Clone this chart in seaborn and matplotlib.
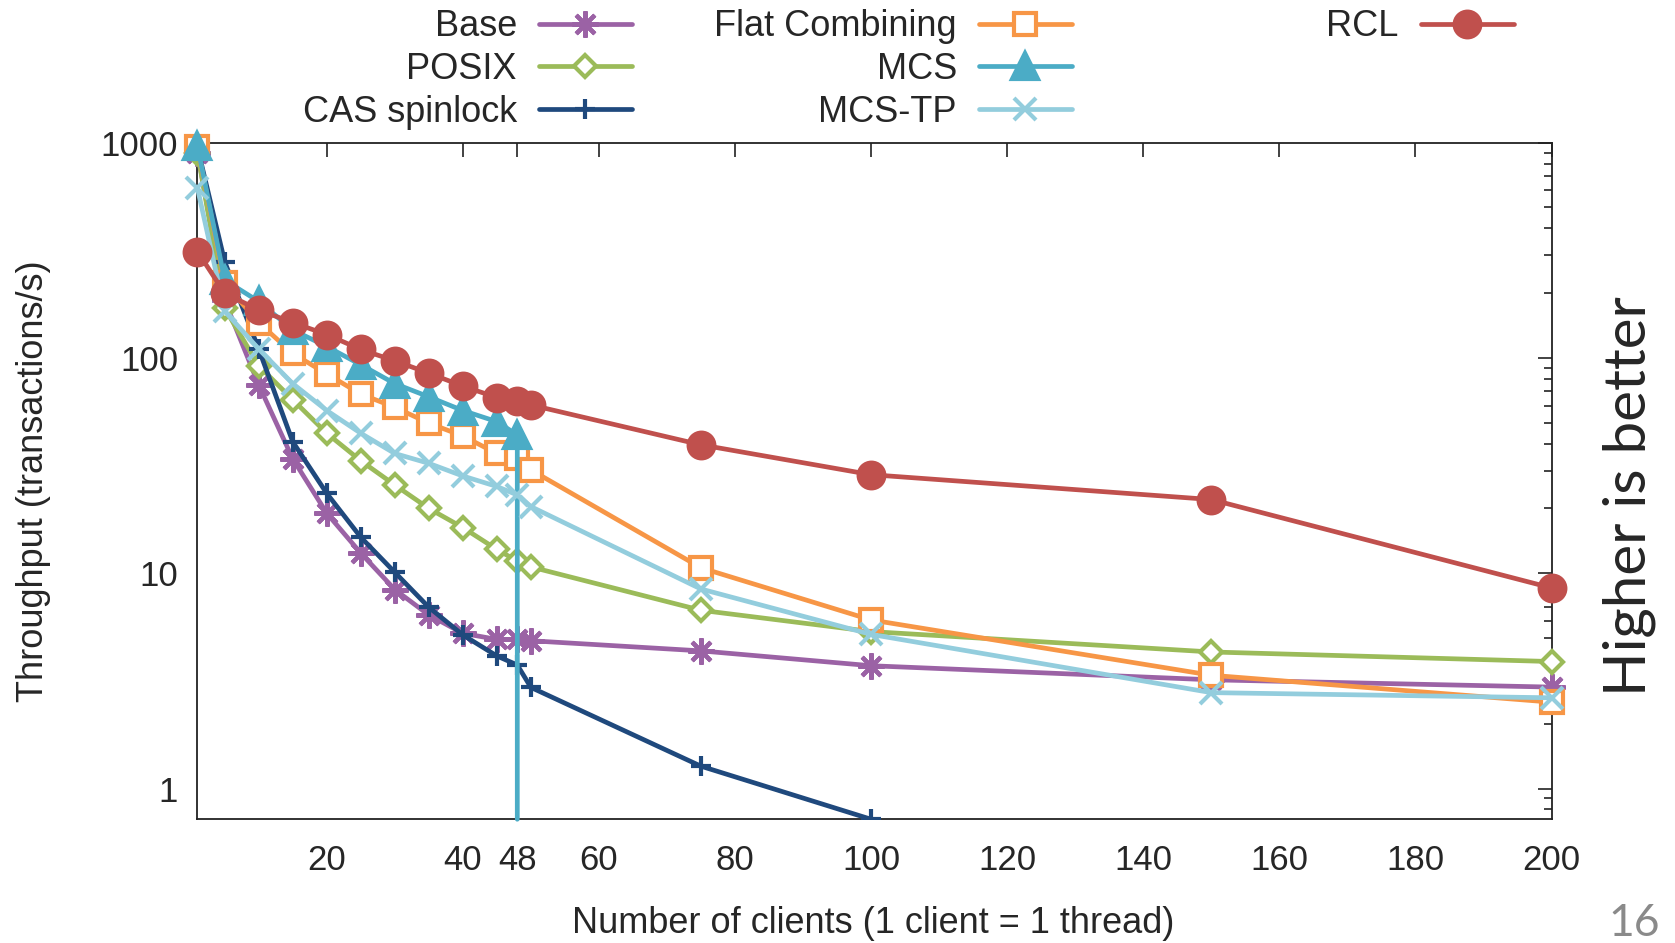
import numpy as np
import matplotlib.pyplot as plt
import seaborn as sns
from matplotlib.lines import Line2D
from matplotlib.ticker import LogLocator, NullFormatter, NullLocator

# data (throughput in transactions/s)
clients = [1, 5, 10, 15, 20, 25, 30, 35, 40, 45, 48, 50, 75, 100, 150, 200]
base = [900, 185, 75, 34, 19, 12.4, 8.4, 6.4, 5.26, 4.93, 4.93, 4.86, 4.36, 3.72, 3.2, 2.96]
posix = [900, 170, 92, 64, 44.7, 33.3, 25.7, 20, 16.3, 12.9, 11.4, 10.7, 6.73, 5.36, 4.31, 3.89]
cas_clients = [1, 5, 10, 15, 20, 25, 30, 35, 40, 45, 48, 50, 75, 100]
cas = [950, 280, 110, 40.8, 23.5, 14.7, 10.1, 6.95, 5.17, 4.13, 3.75, 2.95, 1.27, 0.72]
flat = [950, 222, 146, 105, 84.3, 68, 59, 49.8, 43.4, 36, 34.2, 30.2, 10.6, 6.07, 3.36, 2.52]
mcs_clients = [1, 5, 10, 15, 20, 25, 30, 35, 40, 45, 48, 48]
mcs = [960, 230, 183, 135, 113, 93, 76, 66, 57, 50.6, 43.9, 0.72]
mcs_tp = [614, 165, 110, 76, 57, 44.7, 36, 32.4, 28.3, 25.3, 23.1, 20.4, 8.45, 5.2, 2.79, 2.64]
rcl = [312, 200, 167, 146, 128.5, 109.5, 97, 85, 74, 65.5, 63, 60.5, 39.5, 28.7, 22, 8.55]

x_ticks = [20, 40, 48, 60, 80, 100, 120, 140, 160, 180, 200]
y_ticks = [1, 10, 100, 1000]
y_tick_labels = ['1', '10', '100', '1000']

sns.set_style("white")
plt.rcParams['font.family'] = ['Liberation Sans', 'DejaVu Sans']

LW = 3.4
MEW = 3.0
styles = {
    'Base': dict(color='#9B62A5', marker=(8, 2, 0), markersize=19, markerfacecolor='#9B62A5'),
    'POSIX': dict(color='#9BBB59', marker='D', markersize=11, markerfacecolor='white'),
    'CAS spinlock': dict(color='#1F497D', marker='+', markersize=15, markerfacecolor='#1F497D'),
    'Flat Combining': dict(color='#F79646', marker='s', markersize=15.5, markerfacecolor='white'),
    'MCS': dict(color='#4BACC6', marker='^', markersize=19, markerfacecolor='#4BACC6'),
    'MCS-TP': dict(color='#93CDDD', marker='x', markersize=16, markerfacecolor='#93CDDD'),
    'RCL': dict(color='#C0504D', marker='o', markersize=18.5, markerfacecolor='#C0504D'),
}

fig = plt.figure(figsize=(16.75, 9.43), dpi=100)
ax = fig.add_axes([0.1179, 0.1312, 0.8084, 0.7175])
ax.set_yscale('log')

series = [
    ('Base', clients, base, {}),
    ('POSIX', clients, posix, {}),
    ('CAS spinlock', cas_clients, cas, {'clip_on': True}),
    ('Flat Combining', clients, flat, {}),
    ('MCS', mcs_clients, mcs, {'markevery': list(range(len(mcs) - 1))}),
    ('MCS-TP', clients, mcs_tp, {}),
    ('RCL', clients, rcl, {}),
]

handles = {}
for name, xs, ys, extra in series:
    st = styles[name]
    kw = dict(clip_on=False)
    kw.update(extra)
    sns.lineplot(x=xs, y=ys, ax=ax, estimator=None, sort=False, legend=False,
                 color=st['color'], linewidth=LW, marker=st['marker'],
                 markersize=st['markersize'], markerfacecolor=st['markerfacecolor'],
                 markeredgecolor=st['color'], markeredgewidth=MEW, zorder=3, **kw)
    handles[name] = Line2D([], [], color=st['color'], linewidth=LW, marker=st['marker'],
                           markersize=st['markersize'], markerfacecolor=st['markerfacecolor'],
                           markeredgecolor=st['color'], markeredgewidth=MEW)

ax.set_xlim(1, 200)
ax.set_ylim(0.72, 1000)
ax.set_xticks(x_ticks)
ax.set_xticklabels([str(t) for t in x_ticks])
ax.xaxis.set_minor_locator(NullLocator())
ax.set_yticks(y_ticks, labels=y_tick_labels)
ax.yaxis.set_minor_locator(LogLocator(base=10, subs=np.arange(2, 10)))
ax.yaxis.set_minor_formatter(NullFormatter())

ax.tick_params(which='both', direction='in', top=True, right=True, color='#222222', width=1.2)
ax.tick_params(which='major', length=10, labelsize=25, pad=14)
ax.tick_params(which='minor', length=5.5)
ax.tick_params(axis='x', pad=18)
for sp in ax.spines.values():
    sp.set_color('#222222')
    sp.set_linewidth(1.3)

ax.set_xlabel('Number of clients (1 client = 1 thread)', fontsize=26)
ax.set_ylabel('Throughput (transactions/s)', fontsize=26)
ax.xaxis.set_label_coords(0.499, -0.128)
ax.yaxis.set_label_coords(-0.108, 0.5)

# gnuplot-style key: label on the left, sample on the right, labels right-aligned
legend_slots = {
    'Base': (0.3773, 0.9717), 'POSIX': (0.3773, 0.9264), 'CAS spinlock': (0.3773, 0.881),
    'Flat Combining': (0.640, 0.9717), 'MCS': (0.640, 0.9264), 'MCS-TP': (0.640, 0.881),
    'RCL': (0.9039, 0.9717),
}
for name, (lx, ly) in legend_slots.items():
    fig.legend(handles=[handles[name]], labels=[name], loc='center right',
               bbox_to_anchor=(lx, ly), bbox_transform=fig.transFigure,
               markerfirst=False, frameon=False, fontsize=26, numpoints=1,
               handlelength=2.58, handletextpad=0.61, borderpad=0, borderaxespad=0)

fig.text(0.9725, 0.4744, 'Higher is better', rotation=90, ha='center', va='center',
         fontsize=42, family=['Lato', 'DejaVu Sans'])
fig.text(0.9755, 0.0212, '16', ha='center', va='center', fontsize=32, color='#8a8a8a',
         family=['Lato', 'DejaVu Sans'])

fig.savefig('out.png', dpi=100)
